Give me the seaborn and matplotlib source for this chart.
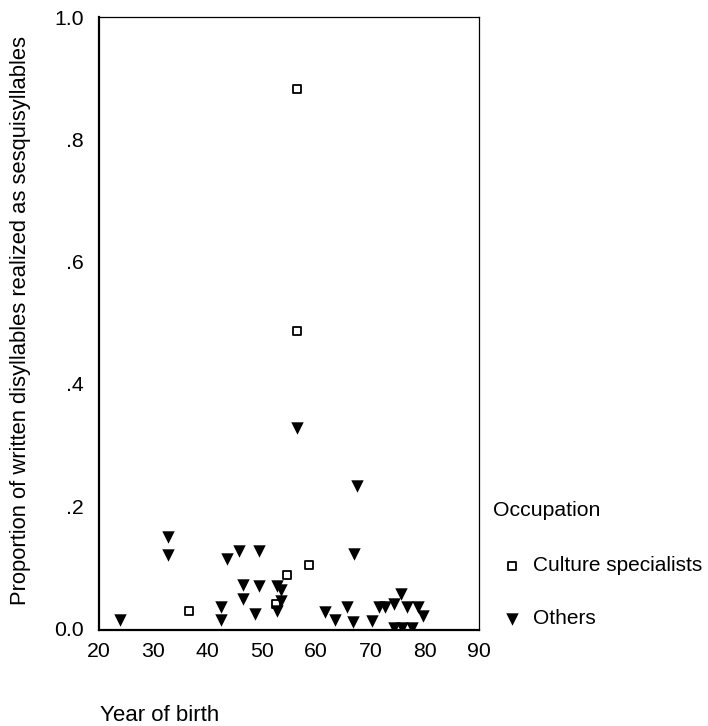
import matplotlib
matplotlib.use("Agg")
import matplotlib.pyplot as plt
import seaborn as sns
import pandas as pd

# Data
culture_year = [56.6, 56.6, 36.7, 52.6, 54.7, 58.75]
culture_prop = [0.883, 0.486, 0.028, 0.040, 0.087, 0.103]

others_year = [24.0, 32.75, 32.75, 42.6, 42.6, 43.7, 45.9, 46.6, 46.6, 49.5,
               49.5, 48.8, 52.8, 53.6, 53.6, 52.8, 56.6, 61.7, 63.5, 65.7,
               66.9, 67.0, 67.6, 70.4, 71.6, 72.7, 74.4, 75.6, 76.8, 78.7,
               79.7, 74.4, 75.8, 77.6]
others_prop = [0.013, 0.150, 0.120, 0.034, 0.014, 0.113, 0.126, 0.070, 0.048, 0.126,
               0.069, 0.024, 0.069, 0.062, 0.045, 0.028, 0.327, 0.027, 0.013, 0.034,
               0.010, 0.121, 0.233, 0.012, 0.035, 0.035, 0.039, 0.056, 0.034, 0.034,
               0.020, 0.0, 0.0, 0.0]

x_ticks = [20, 30, 40, 50, 60, 70, 80, 90]
y_ticks = [0.0, 0.2, 0.4, 0.6, 0.8, 1.0]
y_tick_labels = ["0.0", ".2", ".4", ".6", ".8", "1.0"]

df_c = pd.DataFrame({"year": culture_year, "prop": culture_prop})
df_o = pd.DataFrame({"year": others_year, "prop": others_prop})

sns.set_style("white")
plt.rcParams["font.family"] = ["Liberation Sans", "DejaVu Sans"]
plt.rcParams["text.color"] = "black"
plt.rcParams["axes.labelcolor"] = "black"

FS = 15.3
LFS = 15.0
W, H = 708, 726
fig = plt.figure(figsize=(W / 100, H / 100), dpi=100)
L, R, T, B = 98.5, 479, 17, 629.5
ax = fig.add_axes([L / W, 1 - B / H, (R - L) / W, (B - T) / H])

sns.scatterplot(data=df_c, x="year", y="prop", ax=ax, marker="s", s=30,
                facecolor="white", edgecolor="black", linewidth=1.3,
                label="Culture specialists", zorder=3)
sns.scatterplot(data=df_o, x="year", y="prop", ax=ax, marker="v", s=80,
                color="black", edgecolor="black", linewidth=0,
                label="Others", zorder=3)

ax.set_xlim(20, 90)
ax.set_ylim(-0.002, 1.0)
ax.set_xticks(x_ticks)
ax.set_yticks(y_ticks)
ax.set_yticklabels(y_tick_labels)
ax.tick_params(axis="both", direction="out", length=2.3, width=3.5,
               labelsize=FS, colors="black", labelcolor="black")
ax.tick_params(axis="x", pad=7)
ax.tick_params(axis="y", pad=8.5)

for side in ["left", "bottom"]:
    ax.spines[side].set_linewidth(1.6)
for side in ["top", "right"]:
    ax.spines[side].set_linewidth(0.9)
for sp in ax.spines.values():
    sp.set_color("black")
    sp.set_visible(True)

ax.set_ylabel("Proportion of written disyllables realized as sesquisyllables",
              fontsize=15.8, va="center", color="black")
ax.yaxis.set_label_coords(-0.204, 0.505)
ax.set_xlabel("Year of birth", fontsize=16, ha="left", va="center", color="black")
ax.xaxis.set_label_coords(0.004, -0.14)

if ax.legend_:
    ax.legend_.remove()
fig.text(493 / W, 1 - 510 / H, "Occupation", fontsize=LFS + 0.3, ha="left", va="center")
handles, labels = ax.get_legend_handles_labels()
fig.legend(handles, labels, loc="upper left",
           bbox_to_anchor=(493 / W, 1 - 548 / H), frameon=False,
           fontsize=LFS, handlelength=1.0, handletextpad=0.5,
           labelspacing=1.62, borderaxespad=0, borderpad=0.4,
           labelcolor="black")

fig.savefig("out.png", dpi=100)
